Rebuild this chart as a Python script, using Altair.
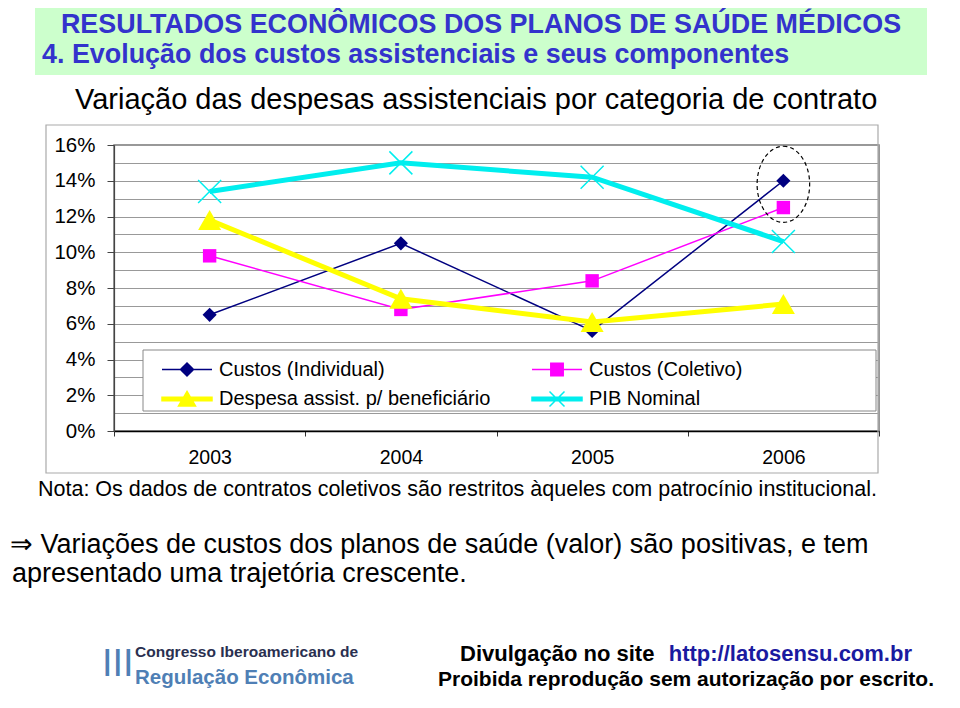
import altair as alt
import pandas as pd

# ---------------- data ----------------
anos = ["2003", "2004", "2005", "2006"]
series = ["Custos (Individual)", "Custos (Coletivo)",
          "Despesa assist. p/ beneficiário", "PIB Nominal"]
custos_individual = [6.5, 10.5, 5.6, 14.0]
custos_coletivo = [9.8, 6.8, 8.4, 12.5]
despesa_beneficiario = [11.8, 7.4, 6.1, 7.1]
pib_nominal = [13.4, 15.0, 14.2, 10.6]
destaque_ano = ["2006"]
destaque_valor = [13.8]
eixo_y = list(range(0, 17))

titulo_1 = "RESULTADOS ECONÔMICOS DOS PLANOS DE SAÚDE MÉDICOS"
titulo_2 = "4. Evolução dos custos assistenciais e seus componentes"
titulo_grafico = "Variação das despesas assistenciais por categoria de contrato"
nota = "Nota: Os dados de contratos coletivos são restritos àqueles com patrocínio institucional."
conclusao_1 = "⇒ Variações de custos dos planos de saúde (valor) são positivas, e tem"
conclusao_2 = "apresentado uma trajetória crescente."
logo_0 = "III"
logo_1 = "Congresso Iberoamericano de"
logo_2 = "Regulação Econômica"
divulgacao = "Divulgação no site"
site = "http://latosensu.com.br"
aviso = "Proibida reprodução sem autorização por escrito."

# ---------------- styles ----------------
FONT = "Liberation Sans"
cores = ["#000080", "#ff00ff", "#ffff00", "#00eeee"]
espessuras = [1.5, 1.5, 5, 5]
formas = ["diamond", "square", "triangle-up", "M-1,-1L1,1M-1,1L1,-1"]
tamanhos = [200, 180, 530, 530]
simbolos_legenda = [
    "M-2.5,0L2.5,0M0,-0.65L0.65,0L0,0.65L-0.65,0Z",
    "M-2.5,0L2.5,0M-0.62,-0.62L0.62,-0.62L0.62,0.62L-0.62,0.62Z",
    "M-2.5,-0.17L2.5,-0.17L2.5,0.17L-2.5,0.17ZM0,-0.75L0.85,0.7L-0.85,0.7Z",
    "M-2.5,-0.17L2.5,-0.17L2.5,0.17L-2.5,0.17ZM-0.75,-0.75L0.75,0.75M-0.75,0.75L0.75,-0.75",
]
elipse = "M0,-1A0.69,1 0 1,1 0,1A0.69,1 0 1,1 0,-1Z"

rows = []
for s, vals in zip(series, [custos_individual, custos_coletivo,
                            despesa_beneficiario, pib_nominal]):
    for a, v in zip(anos, vals):
        rows.append({"ano": a, "valor": v, "serie": s})
df = pd.DataFrame(rows)

x_enc = alt.X(
    "ano:O",
    scale=alt.Scale(type="band", paddingInner=0, paddingOuter=0),
    axis=alt.Axis(title=None, labelAngle=0, tickBand="extent", tickSize=5,
                  labelFontSize=19.5, labelFont=FONT, labelColor="black",
                  labelPadding=12, domainColor="black", domainWidth=1.5,
                  tickColor="#333", grid=False),
)
y_enc = alt.Y(
    "valor:Q",
    scale=alt.Scale(domain=[0, 16], nice=False, zero=True),
    axis=alt.Axis(title=None, values=eixo_y,
                  labelExpr="datum.value % 2 === 0 ? datum.value + '%' : ''",
                  labelOverlap=False,
                  tickOpacity={"condition": {"test": "datum.value % 2 === 0", "value": 1}, "value": 0},
                  tickSize=7, tickColor="#444", labelPadding=12,
                  grid=True, gridColor="#999", gridWidth=1,
                  domainColor="#444", domainWidth=1.2,
                  labelFontSize=20.5, labelColor="black", labelFont=FONT),
)

base = alt.Chart(df)


def texto(t, x, y, size, color="black", weight="normal", align="left"):
    return alt.Chart(pd.DataFrame({"t": [t]})).mark_text(
        align=align, baseline="alphabetic", fontSize=size, font=FONT,
        fontWeight=weight, color=color,
    ).encode(x=alt.value(x), y=alt.value(y), text="t:N")


def caixa(x, x2, y, y2, **kw):
    return alt.Chart(pd.DataFrame({"k": [0]})).mark_rect(**kw).encode(
        x=alt.value(x), x2=alt.value(x2), y=alt.value(y), y2=alt.value(y2))


layers = []
# header band
layers.append(caixa(-79, 813, -142, -70, color="#ccffcc"))
layers.append(texto(titulo_1, 367, -112, 26.9, "#3333cc", "bold", "center"))
layers.append(texto(titulo_2, -72, -82, 26.9, "#3333cc", "bold"))
layers.append(texto(titulo_grafico, -39, -36, 29))

# chart frame and legend box
layers.append(caixa(-68, 764, -20, 328, filled=False, stroke="#aaa", strokeWidth=1.2))
layers.append(caixa(29, 762, 205, 266, fill="white", stroke="#888", strokeWidth=1))

# series lines + markers
for s, c, w, f, sz in zip(series, cores, espessuras, formas, tamanhos):
    sub = base.transform_filter(alt.datum.serie == s)
    layers.append(sub.mark_line(color=c, strokeWidth=w).encode(x=x_enc, y=y_enc))
    if f.startswith("M"):
        layers.append(sub.mark_point(shape=f, size=sz, filled=False, color=c,
                                     strokeWidth=1.5, opacity=1).encode(x=x_enc, y=y_enc))
    else:
        layers.append(sub.mark_point(shape=f, size=sz, filled=True, color=c,
                                     opacity=1).encode(x=x_enc, y=y_enc))

# dashed ellipse highlight
layers.append(
    alt.Chart(pd.DataFrame({"ano": destaque_ano, "valor": destaque_valor}))
    .mark_point(shape=elipse, size=5800, filled=False, color="black",
                strokeWidth=1.2, strokeDash=[4, 3], opacity=1)
    .encode(x=x_enc, y=y_enc)
)

# legend-only layer
leg = alt.Legend(
    title=None, orient="none", legendX=29, legendY=205, columns=2,
    direction="horizontal", gridAlign="all", columnPadding=30, rowPadding=8,
    padding=8, symbolOffset=25, labelOffset=21, symbolSize=400,
    symbolStrokeWidth=1.5, symbolOpacity=1, labelFont=FONT, labelFontSize=20,
    labelColor="black", labelLimit=400,
)
layers.append(
    base.transform_filter("false").mark_point(filled=True, opacity=1, strokeWidth=1.5)
    .encode(
        x=x_enc, y=y_enc,
        fill=alt.Fill("serie:N", scale=alt.Scale(domain=series, range=cores), legend=leg),
        stroke=alt.Stroke("serie:N", scale=alt.Scale(domain=series, range=cores), legend=leg),
        shape=alt.Shape("serie:N", scale=alt.Scale(domain=series, range=simbolos_legenda), legend=leg),
    )
)

# footer texts
layers.append(texto(nota, -76, 351, 21.5))
layers.append(texto(conclusao_1, -104, 408, 27))
layers.append(texto(conclusao_2, -102, 437, 27))
layers.append(texto(logo_0, -12, 531, 38, "#4f7fb5"))
layers.append(texto(logo_1, 21, 512, 15.5, "#2a3050", "bold"))
layers.append(texto(logo_2, 21, 539, 20.5, "#4f7fb5", "bold"))
layers.append(texto(divulgacao, 346, 516, 22, "black", "bold"))
layers.append(texto(site, 798, 516, 22, "#1a1aa0", "bold", "right"))
layers.append(texto(aviso, 572, 541, 21, "black", "bold", "center"))

chart = alt.layer(*layers).properties(
    width=765, height=286,
    autosize=alt.AutoSizeParams(type="none"),
    padding={"left": 106, "top": 137, "right": 65, "bottom": 265},
    background="white",
).configure_view(stroke="#777", strokeWidth=1.5)

chart.save("out.html", embed_options={"renderer": "svg", "actions": False})
